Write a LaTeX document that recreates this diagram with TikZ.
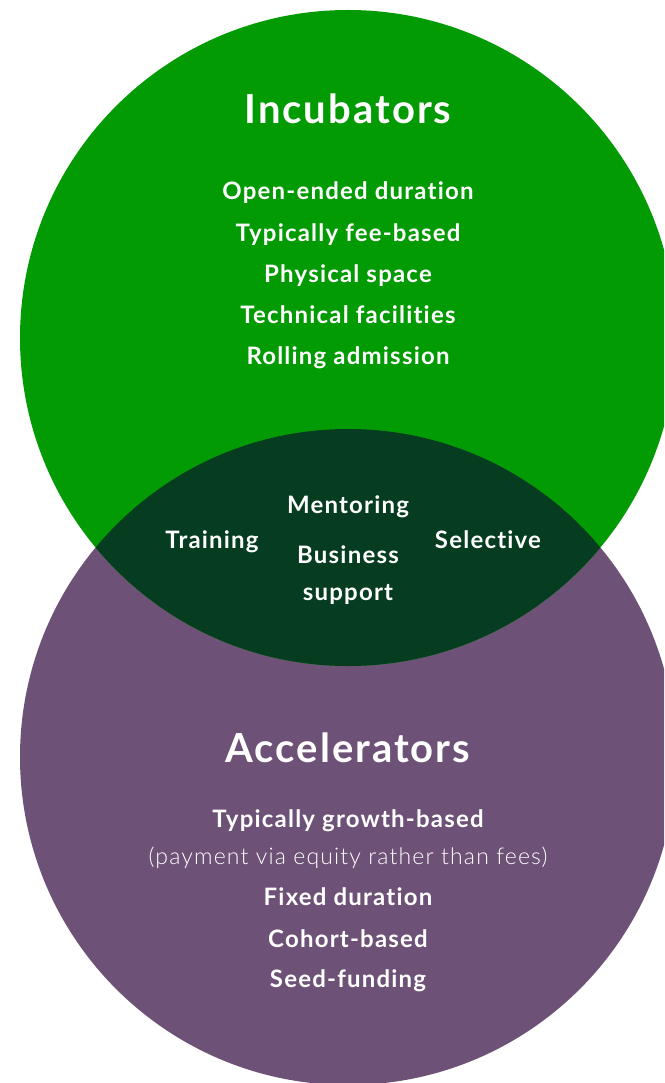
\documentclass[tikz,border=0pt]{standalone}
\usepackage{fontspec}
\setmainfont{Lato}[LetterSpace=5, Ligatures=NoCommon]
\newfontfamily\lightfont{Lato Light}[LetterSpace=5, Ligatures=NoCommon]
\definecolor{incgreen}{RGB}{3,155,3}
\definecolor{lensgreen}{RGB}{6,60,32}
\definecolor{accpurple}{RGB}{110,81,118}
\tikzset{
  title/.style={text=white, anchor=base, inner sep=0pt, font=\bfseries\fontsize{40}{44}\selectfont},
  item/.style={text=white, anchor=base, inner sep=0pt, font=\bfseries\fontsize{24}{28}\selectfont},
  note/.style={text=white, anchor=base, inner sep=0pt, font=\lightfont\fontsize{23}{27}\selectfont}
}
\begin{document}
\begin{tikzpicture}[x=1pt, y=-1pt]
\useasboundingbox (0,0) rectangle (664,1083);
\clip (0,0) rectangle (664,1083);
% the two circles
\fill [accpurple] (348,757) circle [radius=328pt];
\fill [incgreen] (348,338) circle [radius=328pt];
% the overlap
\begin{scope}
  \clip (348,338) circle [radius=328pt];
  \fill [lensgreen] (348,757) circle [radius=328pt];
\end{scope}

\node [title] (inc) at (348,124) {Incubators};
\node [item] (open) at (348,200) {Open-ended duration};
\node [item] (fee) at (348,241) {Typically fee-based};
\node [item] (space) at (348,282) {Physical space};
\node [item] (tech) at (348,323) {Technical facilities};
\node [item] (roll) at (348,364) {Rolling admission};

\node [item] (mentor) at (348,513) {Mentoring};
\node [item] (train) at (212,548) {Training};
\node [item] (select) at (488,548) {Selective};
\node [item] (busi) at (348,563) {Business};
\node [item] (supp) at (348,600) {support};

\node [title] (acc) at (348,762) {Accelerators};
\node [item] (growth) at (348,827) {Typically growth-based};
\node [note] (pay) at (348,864) {(payment via equity rather than fees)};
\node [item] (fixed) at (348,905) {Fixed duration};
\node [item] (cohort) at (348,947) {Cohort-based};
\node [item] (seed) at (348,987) {Seed-funding};
\end{tikzpicture}
\end{document}
